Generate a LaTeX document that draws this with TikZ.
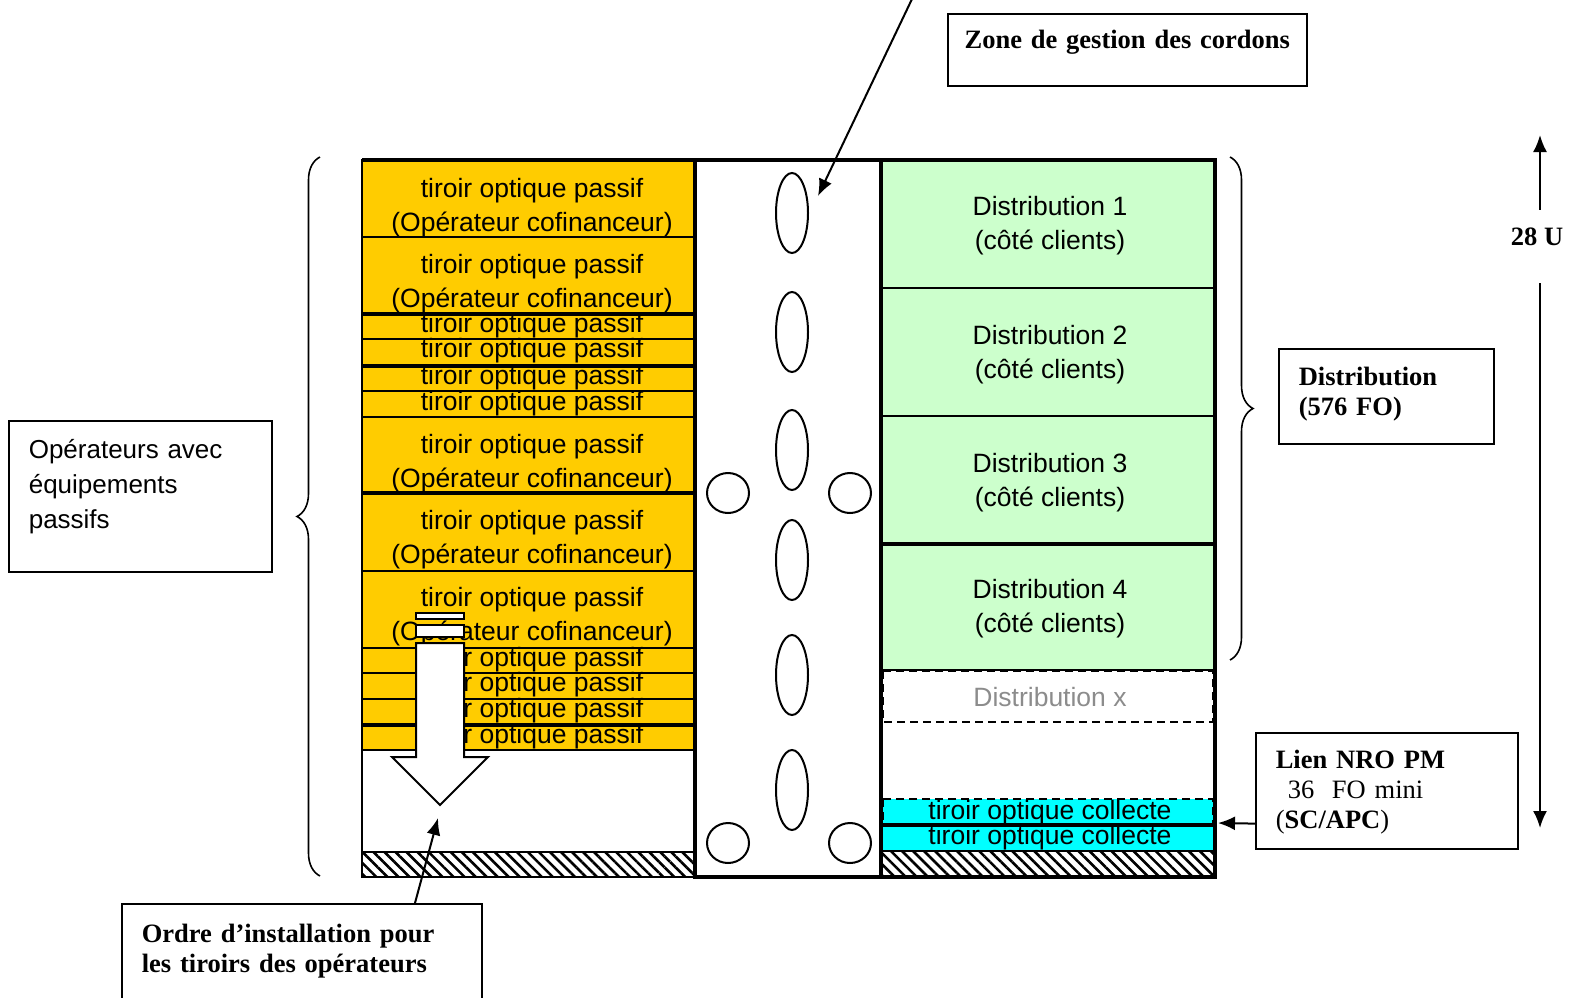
\documentclass[tikz,border=0pt]{standalone}
\usepackage{fontspec}
\setmainfont{Liberation Sans}
\newfontfamily\tnr{Liberation Serif}
\usetikzlibrary{arrows.meta,calc,decorations.pathreplacing,patterns.meta}
\definecolor{tiroir}{HTML}{FFCC00}
\definecolor{distrib}{HTML}{CCFFCC}
\definecolor{collecte}{HTML}{00FFFF}
\definecolor{grisx}{HTML}{8C8C8C}

\begin{document}
\begin{tikzpicture}[x=1pt,y=-1pt,
		txt/.style={anchor=base,inner sep=0pt,align=center,font=\fontsize{26.5}{34}\selectfont},
		boite/.style={draw,line width=1.6pt,anchor=north west,inner ysep=0pt,inner xsep=20pt,align=left,font=\fontsize{26.5}{30}\selectfont\tnr\bfseries},
		trait/.style={line width=2pt},
		epais/.style={line width=3.5pt},
		fleche/.style={line width=2pt,-{Latex[length=17pt,width=14pt]}},
		hachure/.style={pattern={Lines[angle=-45,distance=7.8pt,line width=2.6pt]}},
		pointille/.style={trait,dash pattern=on 8pt off 5pt}]
	\useasboundingbox (0,0) rectangle (1572,997);
	\fill[white] (0,0) rectangle (1572,997);

	% tiroirs operateurs
	\foreach \ha/\hb in {160/237,237/314,314/339,339/366,366/391,391/417,417/493,493/571,571/648,648/673,673/699,699/725,725/750}
		\filldraw[fill=tiroir,trait] (362,\ha) rectangle (695,\hb);
	\foreach \h in {314,366,493,725}
		\draw[epais] (362,\h) -- (695,\h);
	\fill[hachure] (362,852) rectangle (695,877);
	\draw[trait] (362,852) -- (695,852);
	\node[txt] (t1) at (532,231) {tiroir optique passif\\(Opérateur cofinanceur)};
	\node[txt] (t2) at (532,307) {tiroir optique passif\\(Opérateur cofinanceur)};
	\node[txt] (s1) at (532,332) {tiroir optique passif};
	\node[txt] (s2) at (532,357) {tiroir optique passif};
	\node[txt] (s3) at (532,384) {tiroir optique passif};
	\node[txt] (s4) at (532,410) {tiroir optique passif};
	\node[txt] (t3) at (532,487) {tiroir optique passif\\(Opérateur cofinanceur)};
	\node[txt] (t4) at (532,563) {tiroir optique passif\\(Opérateur cofinanceur)};
	\node[txt] (t5) at (532,640) {tiroir optique passif\\(Opérateur cofinanceur)};
	\node[txt] (s5) at (532,666) {tiroir optique passif};
	\node[txt] (s6) at (532,691) {tiroir optique passif};
	\node[txt] (s7) at (532,717) {tiroir optique passif};
	\node[txt] (s8) at (532,743) {tiroir optique passif};

	% ordre d'installation
	\filldraw[fill=white,trait] (416,643) -- (464,643) -- (464,757) -- (488,757) -- (440,805) -- (392,757) -- (416,757) -- cycle;
	\filldraw[fill=white,trait] (416,613) rectangle (464,619);
	\filldraw[fill=white,trait] (416,625) rectangle (464,637);

	% distribution
	\foreach \ha/\hb in {160/288,288/416,416/544,544/670}
		\filldraw[fill=distrib,trait] (881,\ha) rectangle (1215,\hb);
	\draw[epais] (881,544) -- (1215,544);
	\draw[pointille] (883,671) rectangle (1213,722);
	\filldraw[fill=collecte,pointille] (883,799) rectangle (1213,824);
	\filldraw[fill=collecte,trait] (881,826) rectangle (1215,851);
	\draw[epais] (881,825) -- (1215,825);
	\fill[hachure] (881,851) rectangle (1215,877);
	\node[txt] (d1) at (1050,249) {Distribution 1\\(côté clients)};
	\node[txt] (d2) at (1050,378) {Distribution 2\\(côté clients)};
	\node[txt] (d3) at (1050,506) {Distribution 3\\(côté clients)};
	\node[txt] (d4) at (1050,632) {Distribution 4\\(côté clients)};
	\node[txt,text=grisx] (dx) at (1050,706) {Distribution x};
	\node[txt] (c1) at (1050,819) {tiroir optique collecte};
	\node[txt] (c2) at (1050,844) {tiroir optique collecte};

	% baie
	\draw[trait] (362,160) -- (362,877) -- (695,877);
	\draw[epais] (362,160) -- (1216,160);
	\draw[epais] (695,160) -- (695,877) -- (1216,877);
	\draw[epais] (881,160) -- (881,877);
	\draw[line width=4pt] (1215,158) -- (1215,879);
	\foreach \y in {213,332,450,560,675,790}
		\draw[trait] (792,\y) ellipse (16pt and 40pt);
	\foreach \x/\y in {728/493,850/493,728/843,850/843}
		\draw[trait] (\x,\y) ellipse (21pt and 20pt);

	% accolades
	\draw[line width=1.6pt,decorate,decoration={brace,amplitude=23pt}] (320,876) -- (320,157);
	\draw[line width=1.6pt,decorate,decoration={brace,amplitude=23pt}] (1230,157) -- (1230,660);

	% etiquettes
	\node[boite,align=center,inner xsep=8pt,text width=343pt,text height=35pt,text depth=37pt] (zone) at (947,13) {Zone de gestion des cordons};
	\node[boite,text width=175pt,text height=37pt,text depth=58pt] (distrib) at (1278,348) {Distribution\\(576 FO)};
	\node[boite,text width=222pt,text height=36pt,text depth=80pt] (lien) at (1255,732) {Lien NRO PM\\\hspace*{12pt}{\mdseries 36~~FO mini}\\{\mdseries(}SC/APC{\mdseries)}};
	\node[boite,text width=320pt,text height=39pt,text depth=80pt] (ordre) at (121,903) {Ordre d’installation pour\\les tiroirs des opérateurs};
	\node[boite,font=\fontsize{26}{35}\selectfont,text width=223pt,text height=38pt,text depth=113pt] (operateurs) at (8,420) {Opérateurs avec\\équipements\\passifs};
	\node[anchor=base,inner sep=0pt,font=\fontsize{26.5}{30}\selectfont\tnr\bfseries,text height=35pt,text depth=38pt] (u28) at (1537,245) {28 U};

	% fleches
	\coordinate (haut) at (1540,135);
	\coordinate (bas) at (1540,828);
	\coordinate (zonedeb) at (912,-1);
	\coordinate (zonefin) at (818,196);
	\coordinate (ordfin) at (438,818);
	\coordinate (lienfin) at (1218,823);
	\draw[fleche] (u28.north -| haut) -- (haut);
	\draw[fleche] (u28.south -| bas) -- (bas);
	\draw[fleche] (zonedeb) -- (zonefin);
	\draw[fleche] ($(ordre.north west)+(294,0)$) -- (ordfin);
	\draw[fleche] ($(lien.south west)+(0,-26)$) -- (lienfin);
\end{tikzpicture}
\end{document}
